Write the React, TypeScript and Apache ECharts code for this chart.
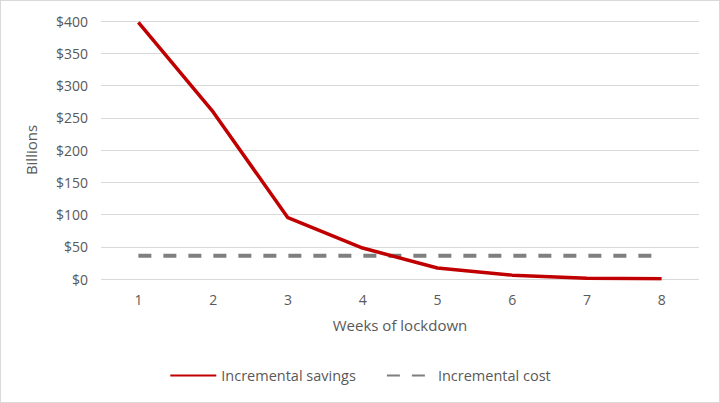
import React, { useEffect, useRef } from "react";
import * as echarts from "echarts";

const weeks = ["1", "2", "3", "4", "5", "6", "7", "8"];
const savings = [398, 259, 95, 48, 17, 6, 1, 0.5];
const cost = [36, 36, 36, 36, 36, 36, 36, 36];

const FONT = "Open Sans";
const TXT = "#595959";

export default function App() {
  const ref = useRef<HTMLDivElement>(null);
  useEffect(() => {
    document.body.style.margin = "0";
    const chart = echarts.init(ref.current!, undefined, { renderer: "svg" });
    chart.setOption({
      animation: false,
      textStyle: { fontFamily: FONT, color: TXT },
      grid: { left: 100, right: 20, top: 20, bottom: 123 },
      legend: {
        bottom: 14,
        left: "center",
        itemWidth: 46,
        itemHeight: 12,
        itemGap: 30,
        itemStyle: { opacity: 0 },
        textStyle: { fontFamily: FONT, color: TXT, fontSize: 14.5 },
        data: ["Incremental savings", "Incremental cost"],
      },
      xAxis: {
        type: "category",
        data: weeks,
        boundaryGap: true,
        name: "Weeks of lockdown",
        nameLocation: "middle",
        nameGap: 38,
        nameTextStyle: { fontFamily: FONT, color: TXT, fontSize: 15 },
        axisLine: { show: false },
        axisTick: { show: false },
        axisLabel: { color: TXT, fontFamily: FONT, fontSize: 14, margin: 13 },
      },
      yAxis: {
        type: "value",
        min: 0,
        max: 400,
        interval: 50,
        name: "Billions",
        nameLocation: "middle",
        nameGap: 63,
        nameTextStyle: { fontFamily: FONT, color: TXT, fontSize: 15 },
        axisLine: { show: false },
        axisTick: { show: false },
        splitLine: { lineStyle: { color: "#d9d9d9", width: 1 } },
        axisLabel: {
          color: TXT,
          fontFamily: FONT,
          fontSize: 14,
          margin: 13,
          formatter: (v: number) => "$" + v,
        },
      },
      series: [
        {
          name: "Incremental savings",
          type: "line",
          data: savings,
          symbol: "none",
          lineStyle: { color: "#C00000", width: 3.5 },
          itemStyle: { color: "#C00000" },
          z: 3,
        },
        {
          name: "Incremental cost",
          type: "line",
          data: cost,
          symbol: "none",
          lineStyle: { color: "#7F7F7F", width: 4, type: [13, 12] },
          itemStyle: { color: "#7F7F7F" },
          z: 2,
        },
      ],
    });
    return () => chart.dispose();
  }, []);
  return (
    <div
      ref={ref}
      style={{
        position: "absolute",
        left: 0,
        top: 0,
        width: 720,
        height: 403,
        boxSizing: "border-box",
        border: "1px solid #d9d9d9",
        background: "#fff",
      }}
    />
  );
}
